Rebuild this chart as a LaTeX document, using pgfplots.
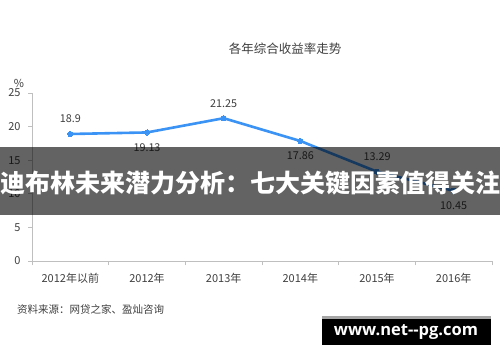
\documentclass[border=0pt]{standalone}
\usepackage{fontspec}
\setmainfont{Noto Sans CJK SC}
\newfontfamily\wmfont{Open Sans}
\usepackage{pgfplots}
\pgfplotsset{compat=1.18}
\definecolor{linecol}{HTML}{3A93F5}
\definecolor{axgray}{HTML}{BFBFBF}
\definecolor{txtgray}{HTML}{404040}
\begin{document}
\begin{tikzpicture}[x=1pt,y=1pt]
\path[use as bounding box, fill=white] (0,0) rectangle (500,362);
\begin{axis}[
  at={(32pt,101pt)}, anchor=south west,
  scale only axis, width=460pt, height=168pt,
  xmin=-0.5, xmax=5.5, ymin=0, ymax=25,
  axis x line=bottom, axis y line=left,
  axis line style={draw=axgray, line width=0.8pt, -},
  xtick={-0.5,0.5,...,5.5}, xticklabel=\empty,
  extra x ticks={0,1,2,3,4,5},
  extra x tick labels={2012年以前,2012年,2013年,2014年,2015年,2016年},
  extra x tick style={major tick length=0pt, xticklabel style={yshift=-9pt}},
  ytick={0,5,10,15,20,25},
  yticklabel style={xshift=-4pt},
  tick align=outside, major tick length=4pt,
  tick style={draw=axgray, line width=0.8pt},
  tick label style={font=\fontsize{11}{13}\selectfont, text=txtgray},
  /pgf/number format/assume math mode=true,
  clip=false,
]
\addplot[color=linecol, line width=2.6pt, mark=*, mark size=2.6pt,
  mark options={fill=linecol, draw=linecol, line width=0pt},
  point meta=\thisrow{y},
  nodes near coords,
  visualization depends on={value \thisrow{p} \as \lblpos},
  every node near coord/.append style={anchor=center, yshift={\lblpos*15pt},
    font=\fontsize{10.8}{12}\selectfont, text=txtgray},
] table[x=x, y=y] {
x y p
0 18.9 1
1 19.13 -1
2 21.25 1
3 17.86 -1
4 13.29 1
5 10.45 -1
};
\end{axis}
\node[font=\fontsize{12.5}{14}\selectfont, text=txtgray] at (285,313) {各年综合收益率走势};
\node[font=\fontsize{11}{12}\selectfont, text=txtgray] at (19,279) {\%};
\node[font=\fontsize{10.5}{12}\selectfont, text=txtgray, anchor=west, inner sep=0pt] at (17,52) {资料来源：网贷之家、盈灿咨询};
\fill[black, opacity=0.61] (0,147) rectangle (500,215);
\node[text=white, font=\fontsize{25}{27}\selectfont\bfseries, inner sep=0pt] at (250,179) {迪布林未来潜力分析：七大关键因素值得关注};
\fill[black] (322,17) rectangle (491,46);
\fill[gray!70] (322,43) rectangle (491,46);
\node[text=white, font=\wmfont\fontsize{16.5}{18}\selectfont\bfseries, inner sep=0pt] at (406,30) {www.net--pg.com};
\end{tikzpicture}
\end{document}
